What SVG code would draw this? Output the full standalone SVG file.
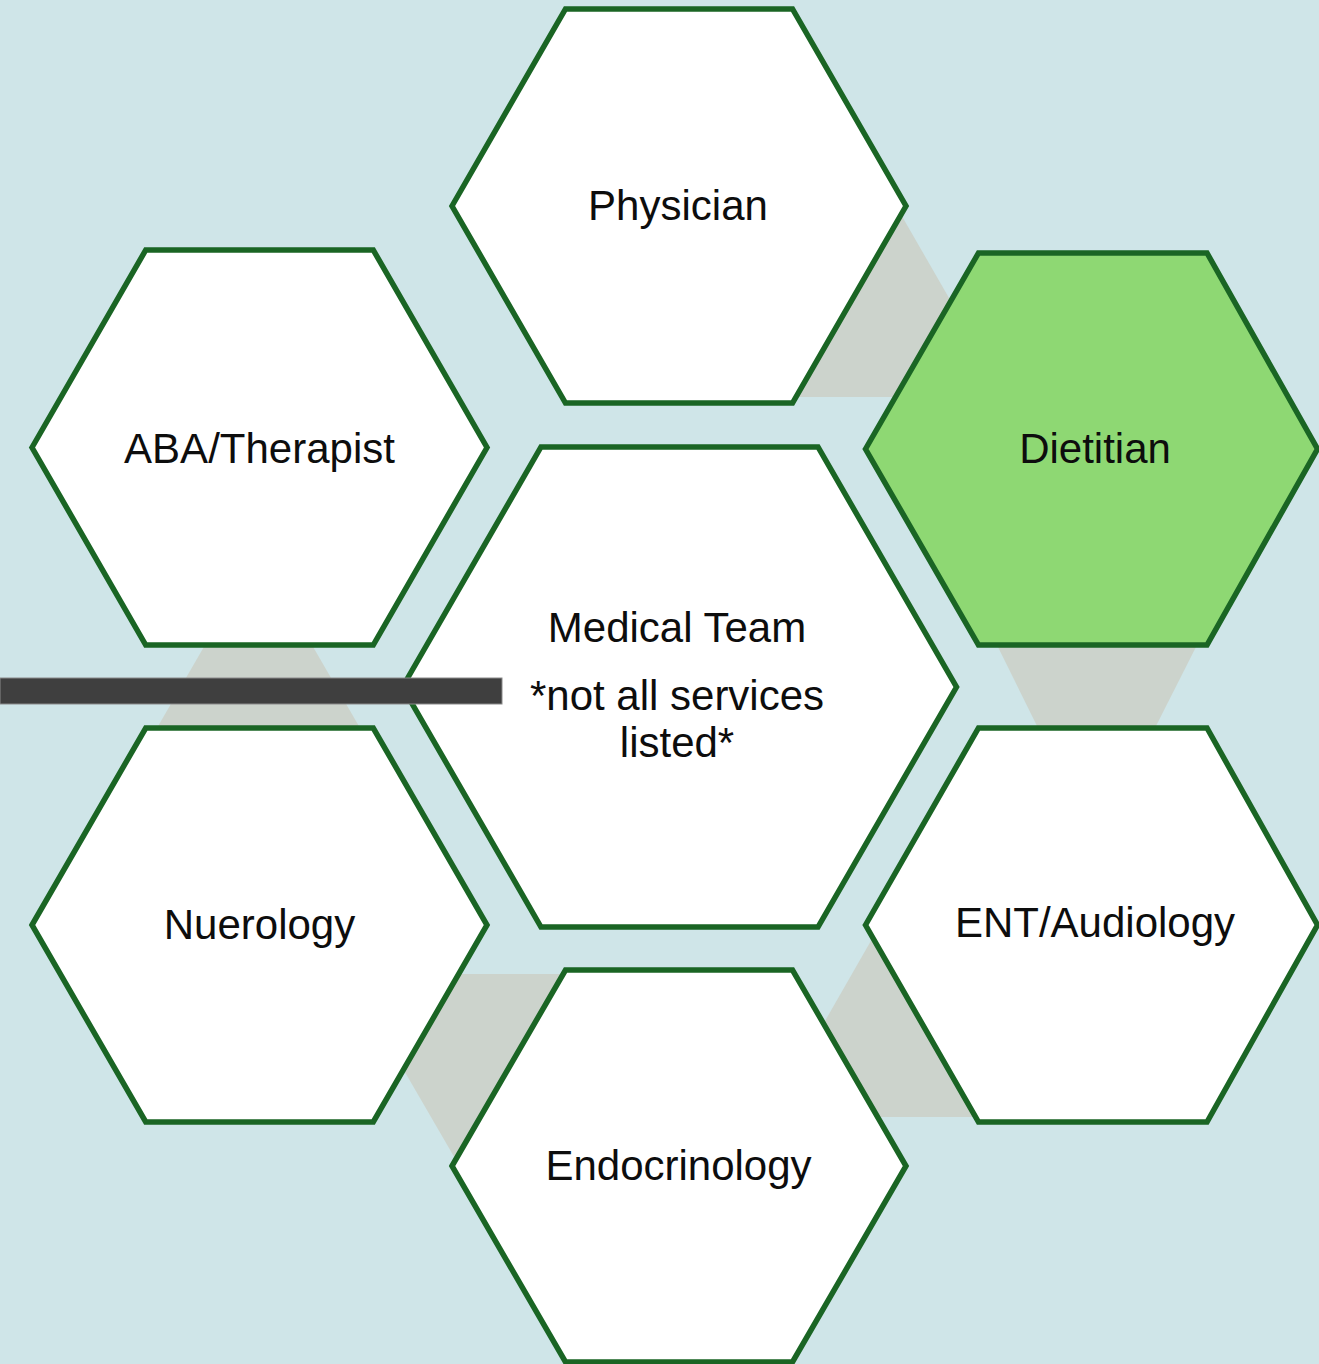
<svg xmlns="http://www.w3.org/2000/svg" width="1319" height="1364" viewBox="0 0 1319 1364">
  <style>
    .hex { fill: #ffffff; stroke: #1a6524; stroke-width: 5.5; stroke-linejoin: miter; }
    .hex.accent { fill: #8ed873; }
    .link { fill: #ccd3cc; stroke: none; }
    .label { font-family: "Liberation Sans", Arial, sans-serif; font-size: 42px; fill: #0d0d0d; text-anchor: middle; }
  </style>

  <!-- backdrop -->
  <rect x="0" y="0" width="1319" height="1364" fill="#cfe5e8"/>

  <!-- grey bands joining neighbouring hexagons -->
  <g id="connectors">
    <polygon class="link" points="884,185 1006,397 797,397"/>
    <polygon class="link" points="997,645 1197,645 1155,728 1038,728"/>
    <polygon class="link" points="880,925 985,1117 770,1117"/>
    <polygon class="link" points="348,974 572,974 460,1167"/>
    <polygon class="link" points="205,645 312,645 360,728 157,728"/>
  </g>

  <g id="physician">
    <polygon class="hex" points="452,206 565.5,9 792.5,9 906,206 792.5,403 565.5,403"/>
    <text class="label" x="678" y="220">Physician</text>
  </g>

  <g id="aba-therapist">
    <polygon class="hex" points="32,447.5 145.75,250 373.25,250 487,447.5 373.25,645 145.75,645"/>
    <text class="label" x="259.5" y="463">ABA/Therapist</text>
  </g>

  <g id="dietitian">
    <polygon class="hex accent" points="865.5,449 978.5,253 1207,253 1317.5,449 1207,645 978.5,645"/>
    <text class="label" x="1095" y="463">Dietitian</text>
  </g>

  <g id="medical-team">
    <polygon class="hex" points="402.5,687 541,447 818,447 956.5,687 818,927 541,927"/>
    <text class="label" x="677" y="642">Medical Team</text>
    <text class="label" x="677" y="710">*not all services</text>
    <text class="label" x="677" y="757">listed*</text>
  </g>

  <g id="nuerology">
    <polygon class="hex" points="32,925 145.75,728 373.25,728 487,925 373.25,1122 145.75,1122"/>
    <text class="label" x="259.5" y="939">Nuerology</text>
  </g>

  <g id="ent-audiology">
    <polygon class="hex" points="865.5,925 978.5,728 1207,728 1317.5,925 1207,1122 978.5,1122"/>
    <text class="label" x="1095" y="937">ENT/Audiology</text>
  </g>

  <g id="endocrinology">
    <polygon class="hex" points="452,1166 565.5,970 792.5,970 906,1166 792.5,1362 565.5,1362"/>
    <text class="label" x="678.5" y="1180">Endocrinology</text>
  </g>

  <!-- dark bar laid across the left side -->
  <rect id="bar" x="0" y="678" width="502" height="26" fill="#3f3f3f" stroke="#8a8a8a" stroke-width="1"/>
</svg>
